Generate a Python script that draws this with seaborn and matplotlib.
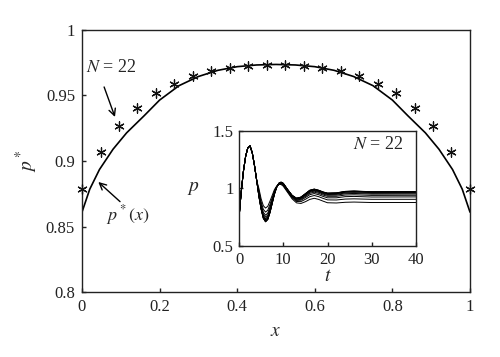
import numpy as np
import pandas as pd
import matplotlib
matplotlib.use('Agg')
import matplotlib.pyplot as plt
import seaborn as sns

# =============================================================================
# Data
# =============================================================================

# stationary profile p*(x), solid curve
x_curve = [0, 0.02, 0.045, 0.08, 0.115, 0.16, 0.2, 0.25, 0.3, 0.35, 0.4, 0.45, 0.5,
           0.55, 0.6, 0.65, 0.7, 0.75, 0.8, 0.84, 0.885, 0.92, 0.955, 0.98, 1.0]
p_curve = [0.861, 0.8785, 0.8935, 0.909, 0.9215, 0.9345, 0.9465, 0.9575, 0.9645, 0.9692, 0.972, 0.9733, 0.9737,
           0.9733, 0.972, 0.9692, 0.9645, 0.9575, 0.9465, 0.9345, 0.9215, 0.909, 0.8935, 0.8785, 0.861]

# N = 22 discrete values (asterisks)
x_nodes = [0, 0.048, 0.095, 0.143, 0.19, 0.238, 0.286, 0.333, 0.381, 0.429, 0.476,
           0.524, 0.571, 0.619, 0.667, 0.714, 0.762, 0.81, 0.857, 0.905, 0.952, 1.0]
p_nodes = [0.8786, 0.9068, 0.9265, 0.9405, 0.952, 0.9589, 0.965, 0.969, 0.971, 0.9725, 0.9733,
           0.9733, 0.9725, 0.971, 0.969, 0.965, 0.9589, 0.952, 0.9405, 0.9265, 0.9068, 0.8786]

# inset: p(t) transients, common start then one trace per node value
t_early = [0, 0.25, 0.5, 1, 1.5, 2, 2.5, 3, 3.5, 4]
p_early = [0.74, 0.86, 0.97, 1.15, 1.28, 1.355, 1.37, 1.31, 1.20, 1.07]

t_late = [4.5, 5, 5.5, 6, 6.5, 7, 7.5, 8, 8.5, 9, 9.5, 10, 11, 12, 13, 14, 15,
          16, 17, 18, 19, 20, 22, 24, 26, 30, 40]

p_late_A = [0.93, 0.82, 0.74, 0.71, 0.73, 0.79, 0.87, 0.95, 1.01, 1.045, 1.055, 1.045, 0.99, 0.94,
            0.915, 0.925, 0.955, 0.985, 0.995, 0.985, 0.97, 0.96, 0.962, 0.975, 0.978, 0.972, 0.973]
p_late_B = [0.931, 0.821, 0.741, 0.711, 0.731, 0.791, 0.871, 0.95, 1.01, 1.045, 1.055, 1.045, 0.99, 0.94,
            0.915, 0.925, 0.954, 0.984, 0.994, 0.984, 0.969, 0.959, 0.961, 0.974, 0.977, 0.971, 0.9725]
p_late_C = [0.932, 0.822, 0.743, 0.713, 0.733, 0.792, 0.872, 0.951, 1.01, 1.045, 1.055, 1.044, 0.989, 0.939,
            0.914, 0.924, 0.953, 0.983, 0.993, 0.983, 0.968, 0.958, 0.96, 0.973, 0.976, 0.97, 0.971]
p_late_D = [0.933, 0.824, 0.745, 0.715, 0.735, 0.794, 0.873, 0.952, 1.01, 1.045, 1.054, 1.044, 0.989, 0.939,
            0.913, 0.923, 0.952, 0.981, 0.991, 0.981, 0.966, 0.956, 0.958, 0.971, 0.974, 0.968, 0.969]
p_late_E = [0.936, 0.828, 0.75, 0.72, 0.74, 0.799, 0.876, 0.953, 1.011, 1.044, 1.053, 1.043, 0.988, 0.937,
            0.912, 0.92, 0.949, 0.978, 0.988, 0.978, 0.963, 0.953, 0.954, 0.967, 0.97, 0.964, 0.965]
p_late_F = [0.94, 0.833, 0.756, 0.727, 0.747, 0.804, 0.88, 0.956, 1.011, 1.044, 1.052, 1.041, 0.986, 0.936,
            0.909, 0.917, 0.945, 0.973, 0.983, 0.973, 0.958, 0.948, 0.949, 0.961, 0.964, 0.958, 0.9595]
p_late_G = [0.946, 0.84, 0.765, 0.737, 0.756, 0.812, 0.886, 0.959, 1.012, 1.043, 1.051, 1.039, 0.984, 0.933,
            0.906, 0.913, 0.939, 0.967, 0.977, 0.967, 0.952, 0.941, 0.942, 0.954, 0.957, 0.951, 0.952]
p_late_H = [0.954, 0.851, 0.777, 0.751, 0.769, 0.824, 0.894, 0.964, 1.013, 1.042, 1.048, 1.037, 0.982, 0.93,
            0.901, 0.906, 0.931, 0.958, 0.968, 0.958, 0.943, 0.932, 0.932, 0.943, 0.945, 0.94, 0.941]
p_late_I = [0.964, 0.864, 0.793, 0.768, 0.786, 0.839, 0.904, 0.969, 1.015, 1.04, 1.045, 1.033, 0.978, 0.925,
            0.896, 0.898, 0.921, 0.946, 0.956, 0.946, 0.931, 0.919, 0.919, 0.929, 0.931, 0.926, 0.927]
p_late_J = [0.979, 0.884, 0.818, 0.795, 0.811, 0.861, 0.919, 0.978, 1.017, 1.038, 1.041, 1.027, 0.972, 0.919,
            0.887, 0.886, 0.906, 0.929, 0.939, 0.929, 0.914, 0.901, 0.9, 0.908, 0.91, 0.906, 0.906]
p_late_K = [1.0, 0.91, 0.85, 0.83, 0.845, 0.89, 0.94, 0.99, 1.02, 1.035, 1.035, 1.02, 0.965, 0.91,
            0.875, 0.87, 0.885, 0.905, 0.915, 0.905, 0.89, 0.876, 0.874, 0.88, 0.882, 0.878, 0.878]

late_traces = [p_late_A, p_late_B, p_late_C, p_late_D, p_late_E, p_late_F,
               p_late_G, p_late_H, p_late_I, p_late_J, p_late_K]

x_ticks = [0, 0.2, 0.4, 0.6, 0.8, 1]
y_ticks = [0.8, 0.85, 0.9, 0.95, 1]
t_ticks = [0, 10, 20, 30, 40]
pt_ticks = [0.5, 1, 1.5]

# =============================================================================
# Styling
# =============================================================================

sns.set_theme(style='ticks')
plt.rcParams['font.family'] = ['Liberation Serif', 'DejaVu Serif']
plt.rcParams['mathtext.fontset'] = 'stix'
plt.rcParams['axes.edgecolor'] = '#222222'
plt.rcParams['axes.linewidth'] = 1.0

fig = plt.figure(figsize=(5.0, 3.57), dpi=100)
ax = fig.add_axes([0.164, 0.182, 0.776, 0.734])

# main curve and asterisks
sns.lineplot(x=x_curve, y=p_curve, ax=ax, color='black', linewidth=1.2, sort=False)
sns.scatterplot(x=x_nodes, y=p_nodes, ax=ax, marker=(6, 2, 0), s=45,
                color='#111111', edgecolor='#111111', linewidth=0.9, zorder=3, clip_on=False)

ax.set_xlim(0, 1)
ax.set_ylim(0.8, 1)
ax.set_xticks(x_ticks)
ax.set_yticks(y_ticks)
ax.xaxis.set_major_formatter(plt.FuncFormatter(lambda v, _: f'{v:g}'))
ax.yaxis.set_major_formatter(plt.FuncFormatter(lambda v, _: f'{v:g}'))
ax.tick_params(direction='in', length=3, width=1, labelsize=12, colors='#222222', pad=5)
for s in ax.spines.values():
    s.set_visible(True)

ax.set_xlabel('$x$', fontsize=14, labelpad=6)
ax.set_ylabel('$p^*$', fontsize=14, labelpad=4)

# annotations: arrows drawn from tail to head, text placed beside tail
ax.annotate('', xy=(0.085, 0.9336), xytext=(0.057, 0.9565),
            arrowprops=dict(arrowstyle='->', color='black', lw=1.0, shrinkA=0, shrinkB=0))
ax.text(0.076, 0.9715, '$N$ = 22', ha='center', va='center', fontsize=13)
ax.annotate('', xy=(0.042, 0.884), xytext=(0.098, 0.869),
            arrowprops=dict(arrowstyle='->', color='black', lw=1.0, shrinkA=0, shrinkB=0))
ax.text(0.117, 0.859, '$p^*(x)$', ha='center', va='center', fontsize=13)

# inset
axi = fig.add_axes([0.478, 0.311, 0.354, 0.322])
rows = []
for k, trace in enumerate(late_traces):
    for t, p in zip(t_early + t_late, p_early + trace):
        rows.append({'t': t, 'p': p, 'line': k})
inset_df = pd.DataFrame(rows)
sns.lineplot(data=inset_df, x='t', y='p', hue='line', palette=['black'] * len(late_traces),
             estimator=None, sort=False, legend=False, linewidth=0.7, ax=axi)

axi.set_xlim(0, 40)
axi.set_ylim(0.5, 1.5)
axi.set_xticks(t_ticks)
axi.set_yticks(pt_ticks)
axi.yaxis.set_major_formatter(plt.FuncFormatter(lambda v, _: f'{v:g}'))
axi.tick_params(direction='in', length=3, width=1, labelsize=12, colors='#222222', pad=4)
for s in axi.spines.values():
    s.set_visible(True)
axi.set_xlabel('$t$', fontsize=14, labelpad=0)
axi.set_ylabel('$p$', fontsize=14, rotation=0, labelpad=14, va='center')
axi.text(0.93, 0.88, '$N$ = 22', transform=axi.transAxes, ha='right', va='center', fontsize=13)

fig.savefig('out.png', dpi=100)
